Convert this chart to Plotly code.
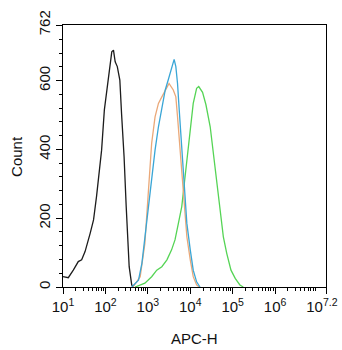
import numpy as np
import plotly.graph_objects as go

# APC-H intensities given as log10 exponents, counts per bin
black_log = [1.0, 1.125, 1.243, 1.36, 1.44, 1.52, 1.64, 1.72, 1.79, 1.86, 1.91, 1.975, 2.045, 2.11, 2.15, 2.19,
             2.23, 2.28, 2.34, 2.38, 2.44, 2.49, 2.53, 2.56, 2.62, 2.66]
black_cnt = [30, 27, 49, 74, 79, 103, 156, 195, 263, 350, 398, 515, 583, 641, 684, 689,
             655, 641, 602, 505, 379, 234, 117, 59, 6, 0]

green_log = [2.70, 2.93, 3.09, 3.21, 3.33, 3.45, 3.56, 3.64, 3.72, 3.80, 3.86, 3.92, 4.0, 4.07, 4.15, 4.20,
             4.29, 4.37, 4.47, 4.55, 4.63, 4.70, 4.78, 4.86, 4.96, 5.06, 5.17, 5.25]
green_cnt = [0, 11, 30, 49, 59, 79, 108, 137, 185, 234, 301, 369, 457, 534, 578, 583,
             566, 530, 466, 379, 292, 214, 146, 98, 49, 25, 6, 0]

orange_log = [2.65, 2.82, 2.93, 3.01, 3.09, 3.17, 3.25, 3.33, 3.41, 3.50, 3.60, 3.66, 3.70, 3.76, 3.81,
              3.88, 3.92, 4.0, 4.07, 4.15, 4.21]
orange_cnt = [0, 30, 127, 272, 418, 495, 534, 553, 573, 592, 573, 553, 495, 398, 301,
              185, 146, 79, 30, 6, 0]

blue_log = [2.62, 2.78, 2.86, 2.93, 3.01, 3.09, 3.17, 3.25, 3.33, 3.41, 3.48, 3.56, 3.62, 3.66, 3.70, 3.74,
            3.80, 3.86, 3.92, 4.0, 4.07, 4.15, 4.23]
blue_cnt = [0, 20, 69, 146, 234, 321, 398, 466, 524, 573, 602, 641, 662, 641, 592, 515,
            398, 282, 185, 108, 49, 15, 0]

x_tick_exp = [1, 2, 3, 4, 5, 6, 7.2]
x_tick_text = ["10<sup>1</sup>", "10<sup>2</sup>", "10<sup>3</sup>", "10<sup>4</sup>",
               "10<sup>5</sup>", "10<sup>6</sup>", "10<sup>7.2</sup>&nbsp;&nbsp;"]
y_ticks = [0, 200, 400, 600, 762]
x_title = "APC-H"
y_title = "Count"

series = [
    (black_log, black_cnt, "#1c1c1c"),
    (green_log, green_cnt, "#55d455"),
    (orange_log, orange_cnt, "#eaa878"),
    (blue_log, blue_cnt, "#3aa6d6"),
]

fig = go.Figure()
for lg, cnt, col in series:
    fig.add_trace(go.Scatter(x=10 ** np.array(lg), y=cnt, mode="lines",
                             line=dict(color=col, width=1.3), showlegend=False,
                             hoverinfo="skip"))

minor_x = [m * 10 ** k for k in range(1, 7) for m in range(2, 10) if m * 10 ** k < 10 ** 7.2]

font = dict(family="Liberation Sans, Arial, sans-serif", size=15, color="#111")

fig.update_layout(
    width=342, height=350,
    margin=dict(l=63, r=16, t=25, b=63),
    paper_bgcolor="white", plot_bgcolor="white",
    font=font,
    xaxis=dict(
        type="log", range=[1, 7.2], automargin=False,
        tickmode="array", tickvals=[10 ** e for e in x_tick_exp], ticktext=x_tick_text,
        ticklabeloverflow="allow",
        ticks="outside", ticklen=6, tickwidth=1, tickcolor="black",
        showline=True, linecolor="black", linewidth=1, mirror=True,
        showgrid=False, zeroline=False,
        minor=dict(tickmode="array", tickvals=minor_x, ticks="outside", ticklen=3,
                   tickcolor="black", showgrid=False),
        tickfont=font,
    ),
    yaxis=dict(
        range=[0, 762], automargin=False,
        tickmode="array", tickvals=y_ticks, ticktext=[str(v) for v in y_ticks],
        tickangle=-90, ticklabeloverflow="allow",
        ticks="outside", ticklen=6, tickwidth=1, tickcolor="black",
        showline=True, linecolor="black", linewidth=1, mirror=True,
        showgrid=False, zeroline=False,
        minor=dict(dtick=40, tick0=0, ticks="outside", ticklen=3,
                   tickcolor="black", showgrid=False),
        tickfont=font,
    ),
    annotations=[
        dict(text=x_title, xref="paper", yref="paper", x=0.5, y=-0.195,
             xanchor="center", yanchor="middle", showarrow=False, font=font),
        dict(text=y_title, xref="paper", yref="paper", x=-0.179, y=0.5, textangle=-90,
             xanchor="center", yanchor="middle", showarrow=False, font=font),
    ],
)

fig.write_html("out.html", config={"displayModeBar": False},
               post_script="document.body.style.margin='0';document.body.style.overflow='hidden';")
